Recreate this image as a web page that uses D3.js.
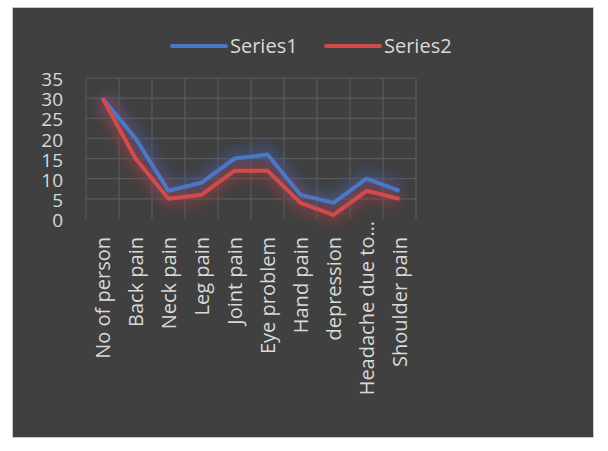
<!DOCTYPE html>
<html>
<head>
<meta charset="utf-8">
<script src="https://cdn.jsdelivr.net/npm/d3@7"></script>
<style>
    body { margin: 0; background: #ffffff; }
    text { font-family: "Open Sans", sans-serif; fill: #d9d9d9; }
</style>
</head>
<body>
<div id="chart"></div>
<script>
const categories = ['No of person', 'Back pain', 'Neck pain', 'Leg pain', 'Joint pain',
    'Eye problem', 'Hand pain', 'depression', 'Headache due to…', 'Shoulder pain'];
const series1 = [30, 20, 7, 9, 15, 16, 6, 4, 10, 7];
const series2 = [30, 15, 5, 6, 12, 12, 4, 1, 7, 5];
const seriesNames = ['Series1', 'Series2'];
const yTicks = [0, 5, 10, 15, 20, 25, 30, 35];

const width = 608, height = 451;
const colors = ['#4a78c8', '#d24b4b'];
const glowColors = ['#3d5fa8', '#a83a3a'];

const svg = d3.select('#chart')
    .append('svg')
    .attr('width', width)
    .attr('height', height);

// glow filter
const defs = svg.append('defs');
defs.append('filter')
    .attr('id', 'glow')
    .attr('x', '-20%').attr('y', '-50%')
    .attr('width', '140%').attr('height', '200%')
    .append('feGaussianBlur')
    .attr('stdDeviation', 6);

// chart panel
svg.append('rect')
    .attr('x', 12.5).attr('y', 7.5)
    .attr('width', 581).attr('height', 430)
    .attr('fill', '#404040')
    .attr('stroke', '#c8c8c8');

const plot = { left: 86, right: 416, top: 78, bottom: 219 };

const x = d3.scaleBand()
    .domain(categories)
    .range([plot.left, plot.right]);

const y = d3.scaleLinear()
    .domain([0, 35])
    .range([plot.bottom, plot.top]);

// gridlines
const grid = svg.append('g').attr('stroke', '#5a5a5a').attr('stroke-width', 1.2);
grid.selectAll('line.h')
    .data(yTicks.filter(d => d > 0))
    .join('line')
    .attr('class', 'h')
    .attr('x1', plot.left).attr('x2', plot.right)
    .attr('y1', d => y(d)).attr('y2', d => y(d));
grid.selectAll('line.v')
    .data(categories.map(c => x(c)).concat([plot.right]))
    .join('line')
    .attr('class', 'v')
    .attr('x1', d => d).attr('x2', d => d)
    .attr('y1', plot.top).attr('y2', plot.bottom);

// y axis
const yAxis = svg.append('g')
    .attr('transform', `translate(${plot.left},0)`)
    .call(d3.axisLeft(y).tickValues(yTicks).tickSize(0).tickPadding(23));
yAxis.select('.domain').remove();
yAxis.selectAll('text')
    .style('font-size', '19px')
    .attr('fill', '#d9d9d9')
    .attr('dy', '0.4em');

// x axis labels
svg.append('g')
    .selectAll('text')
    .data(categories)
    .join('text')
    .attr('transform', d => `translate(${x(d) + x.bandwidth() / 2},${d.endsWith('…') ? 221 : 237}) rotate(-90)`)
    .attr('dy', '0.36em')
    .attr('text-anchor', 'end')
    .style('font-size', '20px')
    .text(d => d);

// lines
const line = d3.line()
    .x((d, i) => x(categories[i]) + x.bandwidth() / 2)
    .y(d => y(d));

const allSeries = [series1, series2];

svg.append('g')
    .selectAll('path')
    .data(allSeries)
    .join('path')
    .attr('d', line)
    .attr('fill', 'none')
    .attr('stroke', (d, i) => glowColors[i])
    .attr('stroke-width', 18)
    .attr('stroke-linejoin', 'round')
    .attr('opacity', 0.45)
    .attr('filter', 'url(#glow)');

svg.append('g')
    .selectAll('path')
    .data(allSeries)
    .join('path')
    .attr('d', line)
    .attr('fill', 'none')
    .attr('stroke', (d, i) => colors[i])
    .attr('stroke-width', 4)
    .attr('stroke-linejoin', 'round');

// legend
const legend = svg.append('g')
    .selectAll('g')
    .data(seriesNames)
    .join('g')
    .attr('transform', (d, i) => `translate(${172 + i * 154},46)`);

legend.append('line')
    .attr('x1', 0).attr('x2', 54)
    .attr('stroke', (d, i) => colors[i])
    .attr('stroke-width', 4)
    .attr('stroke-linecap', 'round');

legend.append('text')
    .attr('x', 58)
    .attr('dy', '0.36em')
    .style('font-size', '20px')
    .text(d => d);
</script>
</body>
</html>
